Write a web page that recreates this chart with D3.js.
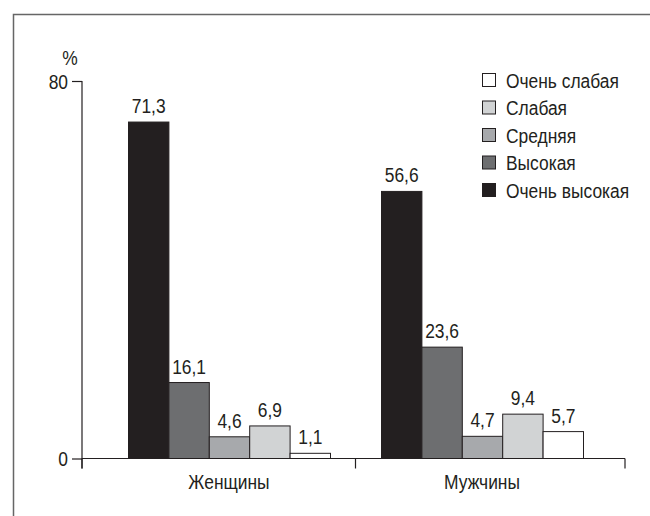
<!DOCTYPE html>
<html>
<head>
<meta charset="utf-8">
<script src="https://cdn.jsdelivr.net/npm/d3@7"></script>
<style>
  html, body { margin: 0; padding: 0; background: #fff; }
  svg { display: block; }
  text { font-family: "Liberation Sans", Arial, sans-serif; fill: #231f20; }
</style>
</head>
<body>
<svg id="chart" width="650" height="516"></svg>
<script>
// Groups along the x axis
const categories = ["Женщины", "Мужчины"];
// Series, in bar order within each group
const series = ["Очень высокая", "Высокая", "Средняя", "Слабая", "Очень слабая"];
const seriesColors = ["#231f20", "#6d6e70", "#a7a9ac", "#d1d3d4", "#ffffff"];
// Percent values per group, same order as series
const womenValues = [71.3, 16.1, 4.6, 6.9, 1.1];
const menValues = [56.6, 23.6, 4.7, 9.4, 5.7];
// Y axis ticks
const yTicks = [0, 80];
// Legend rows, top to bottom
const legendOrder = ["Очень слабая", "Слабая", "Средняя", "Высокая", "Очень высокая"];

const valuesByCategory = { "Женщины": womenValues, "Мужчины": menValues };

const svg = d3.select("#chart");
const ink = "#231f20";
const fontSize = 20;
const narrow = 0.87; // horizontal squeeze for a condensed look

// place a text element at (x, y) with condensed glyphs
function place(sel, fx, fy) {
  sel.attr("transform", (d, i) => `translate(${fx(d, i)},${fy(d, i)}) scale(${narrow},1)`);
}

// Outer frame (top and left edges visible)
svg.append("path")
  .attr("d", "M13.5,516 V14.5 H650")
  .attr("fill", "none")
  .attr("stroke", "#666")
  .attr("stroke-width", 1.5);

const axisLeft = 82, axisRight = 625, baseY = 458.5;

const y = d3.scaleLinear().domain([0, 80]).range([baseY, 81]);

const x0 = d3.scaleBand()
  .domain(categories)
  .range([128, 583])
  .paddingInner(51 / 253)
  .paddingOuter(0);

const x1 = d3.scaleBand()
  .domain(series)
  .range([0, x0.bandwidth()])
  .padding(0);

const color = d3.scaleOrdinal().domain(series).range(seriesColors);

// Bars
const groups = svg.append("g").selectAll("g")
  .data(categories)
  .join("g")
  .attr("transform", d => `translate(${x0(d)},0)`);

const barData = c => series.map((s, i) => ({ s, v: valuesByCategory[c][i] }));

groups.selectAll("rect")
  .data(barData)
  .join("rect")
  .attr("x", d => x1(d.s) + 0.5)
  .attr("y", d => y(d.v))
  .attr("width", x1.bandwidth())
  .attr("height", d => baseY - y(d.v))
  .attr("fill", d => color(d.s))
  .attr("stroke", ink)
  .attr("stroke-width", 1);

// Value labels
groups.selectAll("text.val")
  .data(barData)
  .join("text")
  .attr("class", "val")
  .attr("text-anchor", "middle")
  .attr("font-size", fontSize)
  .call(place, d => x1(d.s) + x1.bandwidth() / 2 + 0.5, d => y(d.v) - 9)
  .text(d => d3.format(".1f")(d.v).replace(".", ","));

// Y axis
const yAxis = d3.axisLeft(y).tickValues(yTicks).tickSize(10).tickPadding(4).tickFormat(d3.format("d"));
const gy = svg.append("g").attr("transform", `translate(${axisLeft},0)`).call(yAxis);
gy.attr("font-family", null).attr("font-size", null);
gy.select(".domain").remove();
gy.selectAll("line").attr("stroke", ink).attr("stroke-width", 1.2);
gy.selectAll("text")
  .attr("x", null).attr("dy", null)
  .attr("font-size", fontSize)
  .attr("fill", ink)
  .call(place, () => -14, () => 7);
svg.append("line")
  .attr("x1", axisLeft).attr("x2", axisLeft)
  .attr("y1", y(80)).attr("y2", baseY + 10)
  .attr("stroke", ink).attr("stroke-width", 1.2);

// X axis with group separator ticks
svg.append("line")
  .attr("x1", axisLeft).attr("x2", axisRight)
  .attr("y1", baseY).attr("y2", baseY)
  .attr("stroke", ink).attr("stroke-width", 1.2);
const sepX = [axisLeft, (x0(categories[0]) + x0.bandwidth() + x0(categories[1])) / 2, axisRight];
svg.append("g").selectAll("line")
  .data(sepX)
  .join("line")
  .attr("x1", d => d).attr("x2", d => d)
  .attr("y1", baseY).attr("y2", baseY + 10)
  .attr("stroke", ink).attr("stroke-width", 1.2);

// Category labels
svg.append("g").selectAll("text")
  .data(categories)
  .join("text")
  .attr("text-anchor", "middle")
  .attr("font-size", fontSize)
  .call(place, d => x0(d) + x0.bandwidth() / 2, () => 489)
  .text(d => d);

// Unit label
svg.append("text")
  .datum("%")
  .attr("text-anchor", "middle")
  .attr("font-size", fontSize)
  .call(place, () => 70, () => 65)
  .text("%");

// Legend
const legend = svg.append("g").selectAll("g")
  .data(legendOrder)
  .join("g")
  .attr("transform", (d, i) => `translate(482.5,${73.5 + i * 27.5})`);
legend.append("rect")
  .attr("width", 13).attr("height", 13)
  .attr("fill", d => color(d))
  .attr("stroke", ink).attr("stroke-width", 1);
legend.append("text")
  .attr("font-size", fontSize)
  .call(place, () => 23.5, () => 14)
  .text(d => d);
</script>
</body>
</html>
